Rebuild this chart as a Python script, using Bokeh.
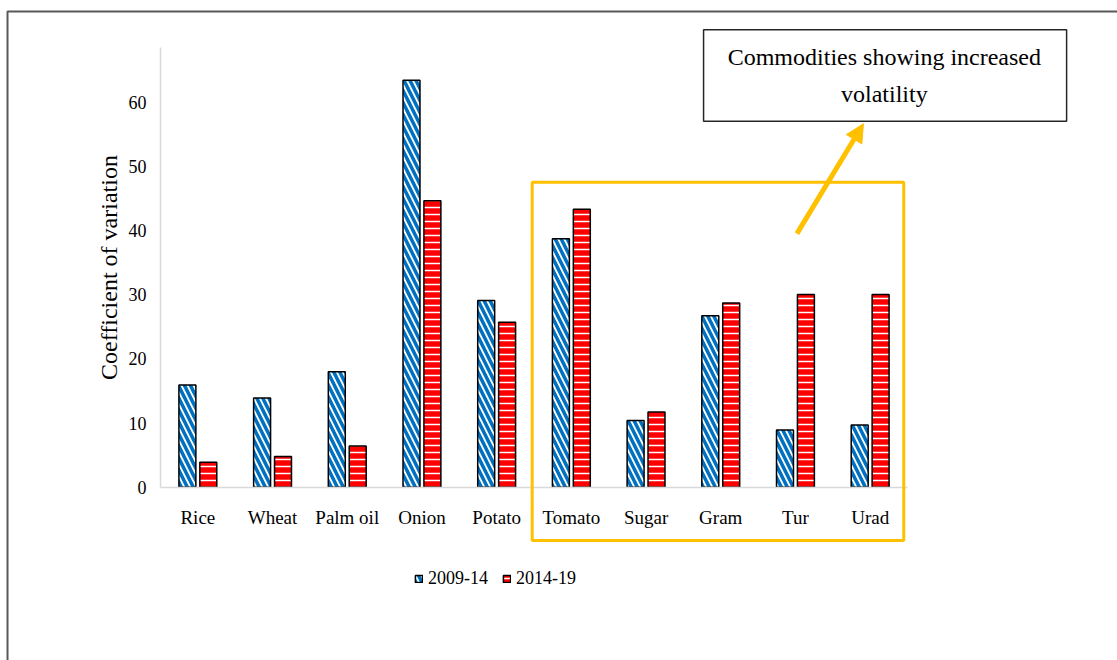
from bokeh.plotting import figure
from bokeh.models import (ColumnDataSource, Range1d, Legend, LegendItem,
                          BoxAnnotation, Label, Arrow, NormalHead, FixedTicker)
from bokeh.embed import file_html
from bokeh.resources import INLINE

categories = ["Rice", "Wheat", "Palm oil", "Onion", "Potato",
              "Tomato", "Sugar", "Gram", "Tur", "Urad"]
cv_2009_14 = [15.9, 13.9, 18.0, 63.4, 29.1, 38.7, 10.4, 26.7, 8.9, 9.7]
cv_2014_19 = [3.9, 4.8, 6.4, 44.6, 25.7, 43.3, 11.7, 28.7, 30.0, 30.0]
series_names = ["2009-14", "2014-19"]
y_ticks = [0, 10, 20, 30, 40, 50, 60]
note_lines = ["Commodities showing increased", "volatility"]

FONT = "Liberation Serif"
GOLD = "#FFC000"

W, H = 1117, 660
# pixel geometry of the plotting area (canvas pixels)
X_LEFT, X_UNIT = 160.0, 74.7      # category slot width in px
Y_BASE, Y_UNIT = 486.7, 6.42      # px per unit of CV
Y_TOP_VAL = 68.5

x_lo = -X_LEFT / X_UNIT
x_hi = (W - X_LEFT) / X_UNIT
y_hi = Y_BASE / Y_UNIT
y_lo = -(H - Y_BASE) / Y_UNIT

centers = [i + 0.5 for i in range(len(categories))]
src = ColumnDataSource(dict(
    xa=[c - 0.14 for c in centers], xb=[c + 0.14 for c in centers],
    a=cv_2009_14, b=cv_2014_19))

p = figure(x_range=Range1d(x_lo, x_hi), y_range=Range1d(y_lo, y_hi),
           width=W, height=H, output_backend="svg", toolbar_location=None,
           min_border=0, min_border_left=0, min_border_right=0,
           min_border_top=0, min_border_bottom=0)
p.outline_line_color = None
p.grid.visible = False

# outer frame (gray, left and top edges visible)
p.line(x=[-2.048, -2.048, x_hi + 1], y=[y_lo - 1, 74.1, 74.1],
       line_color="#595959", line_width=2)

r1 = p.vbar(x="xa", top="a", width=0.227, source=src,
            fill_color="white", line_color="black", line_width=1.5,
            hatch_pattern="\\", hatch_color="#0070C0", hatch_weight=3.5, hatch_scale=12)
r2 = p.vbar(x="xb", top="b", width=0.227, source=src,
            fill_color="#FF0000", line_color="black", line_width=1.5,
            hatch_pattern="-", hatch_color="white", hatch_weight=1.5, hatch_scale=7)

# axes placed inside the frame
xa, ya = p.xaxis[0], p.yaxis[0]
xa.fixed_location = 0
ya.fixed_location = 0
xa.bounds = (0, len(categories))
ya.bounds = (0, Y_TOP_VAL)
for ax in (xa, ya):
    ax.axis_line_color = "#D9D9D9"
    ax.axis_line_width = 1.5
    ax.major_tick_line_color = None
    ax.minor_tick_line_color = None
    ax.major_label_text_font = FONT
    ax.major_label_text_color = "black"
xa.ticker = FixedTicker(ticks=centers)
xa.major_label_overrides = {c: name for c, name in zip(centers, categories)}
xa.major_label_text_font_size = "19px"
xa.major_label_standoff = 14
ya.ticker = FixedTicker(ticks=y_ticks)
ya.major_label_text_font_size = "18px"
ya.major_label_standoff = 8
ya.axis_label = "Coefficient of variation"
ya.axis_label_text_font = FONT
ya.axis_label_text_font_style = "normal"
ya.axis_label_text_font_size = "24px"
ya.axis_label_text_color = "black"
ya.axis_label_standoff = 4

# legend
legend = Legend(items=[LegendItem(label=series_names[0], renderers=[r1]),
                       LegendItem(label=series_names[1], renderers=[r2])],
                orientation="horizontal", location=(414, 71),
                glyph_width=9, glyph_height=9, label_standoff=5, spacing=14,
                padding=0, margin=0, border_line_color=None,
                background_fill_alpha=0,
                label_text_font=FONT, label_text_font_size="18px",
                label_text_color="black")
p.add_layout(legend, "center")

# highlight box
p.add_layout(BoxAnnotation(left=4.976, right=9.95, top=47.5, bottom=-8.3,
                           fill_alpha=0, line_color=GOLD, line_alpha=1, line_width=3))

# note box
p.add_layout(BoxAnnotation(left=7.27, right=12.13, top=71.25, bottom=57.0,
                           fill_color="white", fill_alpha=1,
                           line_color="#262626", line_alpha=1, line_width=1.5))
p.add_layout(Label(x=9.69, y=67.0, text=note_lines[0], text_align="center",
                   text_baseline="middle", text_font=FONT, text_font_size="24px",
                   text_color="black"))
p.add_layout(Label(x=9.69, y=61.3, text=note_lines[1], text_align="center",
                   text_baseline="middle", text_font=FONT, text_font_size="24px",
                   text_color="black"))

# arrow
p.add_layout(Arrow(x_start=8.52, y_start=39.5, x_end=9.41, y_end=56.6,
                   line_color=GOLD, line_width=5,
                   end=NormalHead(size=18, fill_color=GOLD, line_color=GOLD)))

open("out.html", "w").write(file_html(p, INLINE))
